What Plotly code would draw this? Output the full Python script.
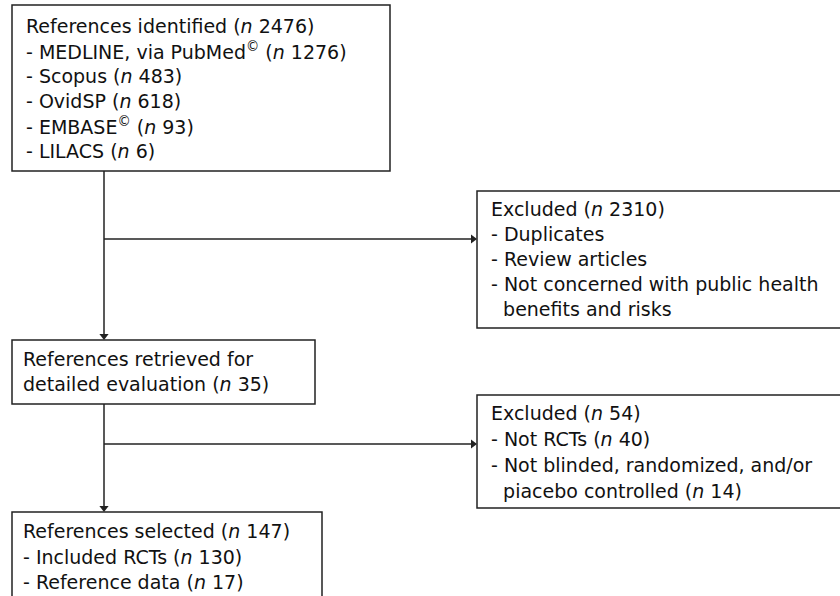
import plotly.graph_objects as go

# ---- data ----
identified_total = 2476
databases = ["MEDLINE, via PubMed<sup>©</sup>", "Scopus", "OvidSP", "EMBASE<sup>©</sup>", "LILACS"]
db_counts = [1276, 483, 618, 93, 6]
excluded1_total = 2310
excluded1_reasons = ["- Duplicates", "- Review articles", "- Not concerned with public health", "  benefits and risks"]
retrieved_total = 35
excluded2_total = 54
excluded2_reasons = ["Not RCTs", "Not blinded, randomized, and/or", "piacebo controlled"]
excluded2_counts = [40, None, 14]
selected_total = 147
selected_parts = ["Included RCTs", "Reference data"]
selected_counts = [130, 17]

def n(v):
    return f"(<i>n</i> {v})"

W, H = 840, 596
FONT = dict(family="DejaVu Sans, Verdana, sans-serif", size=19, color="#111")
LC = "#222"

fig = go.Figure()
fig.add_trace(go.Scatter(x=[0, W], y=[0, H], mode="markers", marker=dict(opacity=0), hoverinfo="skip", showlegend=False))

boxes = [
    (12, 5, 390, 171),
    (477, 191, 870, 328),
    (12, 340, 315, 404),
    (477, 395, 870, 508),
    (12, 512, 322, 630),
]
for x0, y0, x1, y1 in boxes:
    fig.add_shape(type="rect", x0=x0, y0=y0, x1=x1, y1=y1, xref="x", yref="y",
                  line=dict(color=LC, width=1.5), fillcolor="rgba(0,0,0,0)")

def text_lines(x, y0, lines, step=25):
    for i, t in enumerate(lines):
        fig.add_annotation(x=x, y=y0 + i * step, xref="x", yref="y", text=t, showarrow=False,
                           xanchor="left", yanchor="middle", font=FONT, align="left")

box1 = [f"References identified {n(identified_total)}"] + [f"- {d} {n(c)}" for d, c in zip(databases, db_counts)]
text_lines(24, 26, box1)

box2 = [f"Excluded {n(excluded1_total)}"] + [r if not r.startswith("  ") else "&nbsp;&nbsp;" + r.strip() for r in excluded1_reasons]
text_lines(489, 209, box2)

box3 = ["References retrieved for", f"detailed evaluation {n(retrieved_total)}"]
text_lines(21, 359, box3)

box4 = [f"Excluded {n(excluded2_total)}"]
for i, (r, c) in enumerate(zip(excluded2_reasons, excluded2_counts)):
    prefix = "- " if i < 2 else "&nbsp;&nbsp;"
    box4.append(prefix + r + (f" {n(c)}" if c is not None else ""))
text_lines(489, 413, box4, step=26)

box5 = [f"References selected {n(selected_total)}"] + [f"- {p} {n(c)}" for p, c in zip(selected_parts, selected_counts)]
text_lines(21, 531, box5, step=25.5)

# connectors: lines as shapes, arrowheads as triangle markers
def line(x0, y0, x1, y1):
    fig.add_shape(type="line", x0=x0, y0=y0, x1=x1, y1=y1, xref="x", yref="y",
                  line=dict(color=LC, width=1.5))

vx = 104
line(vx, 171, vx, 336)
line(vx, 239, 472, 239)
line(vx, 404, vx, 508)
line(vx, 444, 472, 444)

heads_x = [vx, vx]
heads_y = [336, 508]
fig.add_trace(go.Scatter(x=heads_x, y=heads_y, mode="markers", hoverinfo="skip", showlegend=False,
                         marker=dict(symbol="triangle-down", size=8, color=LC, line=dict(width=0))))
fig.add_trace(go.Scatter(x=[473, 473], y=[239, 444], mode="markers", hoverinfo="skip", showlegend=False,
                         marker=dict(symbol="triangle-right", size=8, color=LC, line=dict(width=0))))

fig.update_xaxes(range=[0, W], visible=False, fixedrange=True)
fig.update_yaxes(range=[H, 0], visible=False, fixedrange=True)
fig.update_layout(width=W, height=H, margin=dict(l=0, r=0, t=0, b=0),
                  plot_bgcolor="white", paper_bgcolor="white", showlegend=False)

fig.write_html("out.html", config={"displayModeBar": False},
               post_script="document.body.style.margin='0';document.body.style.overflow='hidden';")
